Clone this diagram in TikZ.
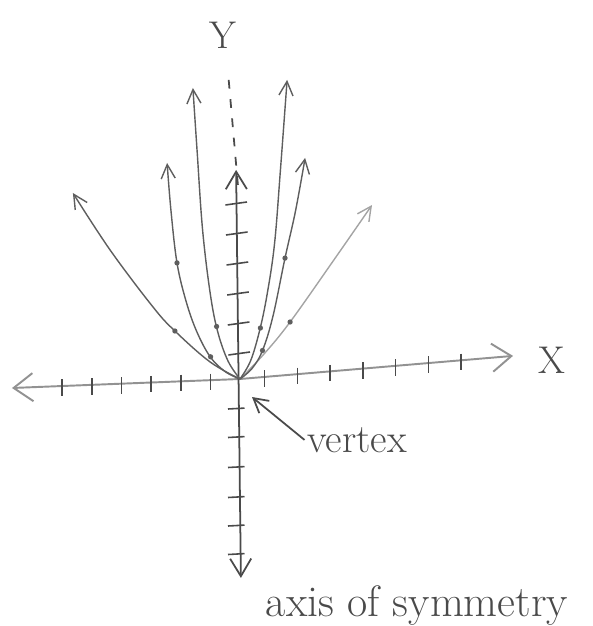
\documentclass[tikz,border=0pt]{standalone}
\usepackage{tikz}
\usetikzlibrary{arrows.meta,calc}
\definecolor{pencil}{HTML}{4A4A4A}
\definecolor{softpencil}{HTML}{929292}
\definecolor{curvegrey}{HTML}{5E5E5E}
\definecolor{faintgrey}{HTML}{A4A4A4}

\begin{document}
\begin{tikzpicture}[x=0.6cm,y=0.6cm,
  xline/.style={draw=softpencil,line width=1.1pt,>={Straight Barb[length=11pt,width=16pt]}},
  yline/.style={draw=pencil,line width=1pt,>={Straight Barb[length=10pt,width=12pt]}},
  dashline/.style={draw=pencil,line width=1pt,dash pattern=on 5pt off 6pt},
  tickmark/.style={draw=pencil,line width=0.9pt},
  parab/.style={draw=curvegrey,line width=0.8pt,smooth,tension=0.6,>={Straight Barb[length=8pt,width=8pt]}},
  faint/.style={draw=faintgrey},
  hand/.style={font=\fontsize{22}{26}\selectfont,text=pencil},
  varrow/.style={draw=pencil,line width=1pt,->,>={Straight Barb[length=8pt,width=9pt]}}]

  \useasboundingbox (-8,-8.233) rectangle (11.733,12.633);

  \coordinate (O)  at (0,0);
  \coordinate (xl) at (-7.6,-0.3);
  \coordinate (xr) at (9.1,0.77);
  \coordinate (yb) at (0.03,-6.63);
  \coordinate (yt) at (-0.13,6.97);
  \coordinate (db) at (-0.07,6.47);
  \coordinate (dt) at (-0.4,10.23);
  \coordinate (vt) at (0.4,-0.6);

  \draw[xline,<->] (xl) -- (O) -- (xr);
  \draw[yline,<->] (yb) -- (yt);
  \draw[dashline] (db) -- (dt);

  \foreach \t in {0.13,0.26,0.39,0.52,0.65,0.78}
    \draw[tickmark] ($(O)!\t!(xl)$) ++(0,0.22) -- ++(0,-0.55);
  \foreach \t in {0.09,0.21,0.33,0.45,0.57,0.69,0.81}
    \draw[tickmark] ($(O)!\t!(xr)$) ++(0,0.22) -- ++(0,-0.55);
  \foreach \y in {0.85,1.85,2.85,3.85,4.85,5.85}
    \draw[tickmark] (-0.02*\y-0.37,\y-0.05) -- ++(0.72,0.1);
  \foreach \y in {-1,-1.95,-2.95,-3.95,-4.9,-5.85}
    \draw[tickmark] (-0.4,\y) -- (0.15,\y+0.03);

  % widest
  \draw[parab,->] plot coordinates {(0,0) (-1.0,0.57) (-2.17,1.6) (-2.9,2.4) (-4.33,4.3) (-5.57,6.2)};
  \draw[parab,faint,->] plot coordinates {(0,0) (0.77,0.8) (1.67,1.9) (3.2,4.07) (4.4,5.8)};
  % middle
  \draw[parab,->] plot coordinates {(0,0) (-0.5,0.25) (-1.0,0.75) (-1.45,1.6) (-1.8,2.6) (-2.1,3.87) (-2.3,5.6) (-2.43,7.2)};
  \draw[parab,->] plot coordinates {(0,0) (0.4,0.35) (0.75,0.95) (1.1,2.1) (1.5,4.03) (1.85,5.6) (2.17,7.37)};
  % narrow
  \draw[parab,->] plot coordinates {(0,0) (-0.4,0.6) (-0.75,1.6) (-1.0,2.9) (-1.25,5.0) (-1.43,7.6) (-1.57,9.7)};
  \draw[parab,->] plot coordinates {(0,0) (0.35,0.6) (0.65,1.6) (0.9,2.8) (1.15,4.5) (1.35,7.0) (1.57,9.97)};

  \foreach \x/\y in {-2.17/1.6,1.67/1.9,-2.1/3.87,-0.98/0.74,1.5/4.03,0.75/0.95,-0.78/1.75,0.68/1.7}
    \fill[curvegrey] (\x,\y) circle (1.5pt);

  \node[hand] (ylab) at (-0.57,11.47) {Y};
  \node[hand] (xlab) at (10.4,0.63) {X};
  \node[hand,font=\fontsize{23}{27}\selectfont] (vtx) at (3.9,-2.03) {vertex};
  \node[hand,font=\fontsize{25}{30}\selectfont] (aos) at (5.9,-7.55) {axis of symmetry};
  \draw[varrow] ([xshift=2pt]vtx.west) -- (vt);
\end{tikzpicture}
\end{document}
